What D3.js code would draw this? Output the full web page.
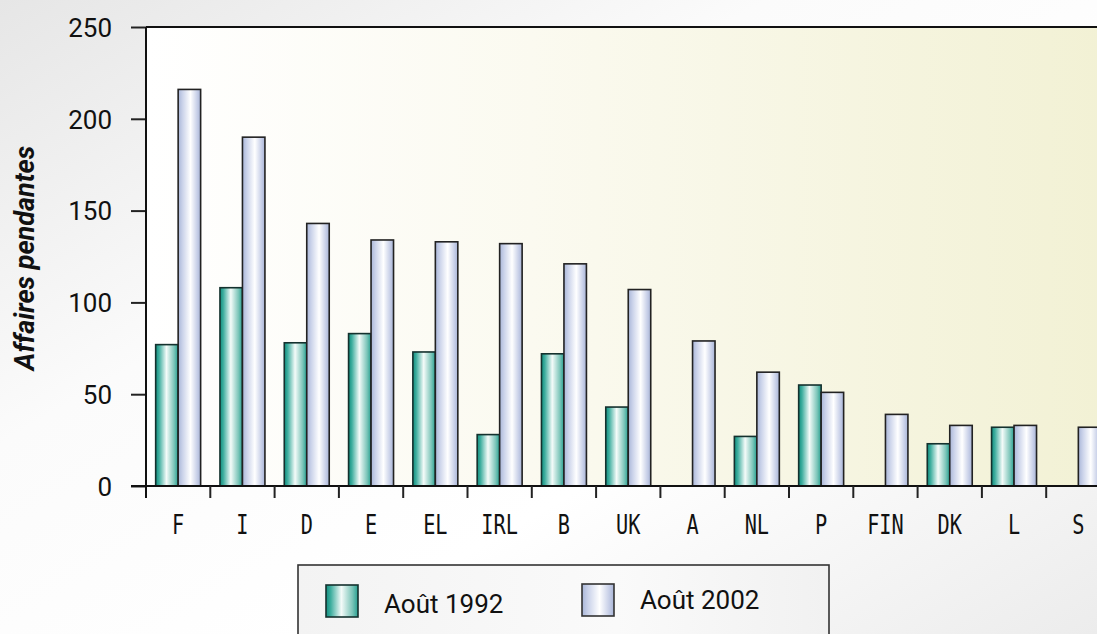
<!DOCTYPE html>
<html>
<head>
<meta charset="utf-8">
<script src="https://cdn.jsdelivr.net/npm/d3@7"></script>
<style>
  html, body { margin: 0; padding: 0; }
  body { width: 1097px; height: 634px; overflow: hidden; }
</style>
</head>
<body>
<div id="chart"></div>
<script>
  const categories = ['F', 'I', 'D', 'E', 'EL', 'IRL', 'B', 'UK', 'A', 'NL', 'P', 'FIN', 'DK', 'L', 'S'];
  const series = ['Août 1992', 'Août 2002'];
  const values1992 = [77, 108, 78, 83, 73, 28, 72, 43, 0, 27, 55, 0, 23, 32, 0];
  const values2002 = [216, 190, 143, 134, 133, 132, 121, 107, 79, 62, 51, 39, 33, 33, 32];
  const yTicks = [0, 50, 100, 150, 200, 250];
  const yLabel = 'Affaires pendantes';

  const W = 1097, H = 634;
  const margin = { top: 27, left: 146, bottom: 148 };
  const plotRight = 146 + 15 * 64.3;

  let svg = d3.select('#chart')
    .append('svg')
    .attr('width', W)
    .attr('height', H);

  let defs = svg.append('defs');

  // page background
  let bg = defs.append('linearGradient').attr('id', 'pageBg')
    .attr('x1', 0).attr('y1', 0).attr('x2', 1).attr('y2', 1);
  bg.append('stop').attr('offset', '0%').attr('stop-color', '#e6e6e6');
  bg.append('stop').attr('offset', '35%').attr('stop-color', '#fbfbfb');
  bg.append('stop').attr('offset', '65%').attr('stop-color', '#ffffff');
  bg.append('stop').attr('offset', '100%').attr('stop-color', '#ececec');

  let plotBg = defs.append('linearGradient').attr('id', 'plotBg')
    .attr('x1', 0).attr('y1', 0).attr('x2', 1).attr('y2', 0);
  plotBg.append('stop').attr('offset', '0%').attr('stop-color', '#ffffff');
  plotBg.append('stop').attr('offset', '40%').attr('stop-color', '#fbfaf0');
  plotBg.append('stop').attr('offset', '100%').attr('stop-color', '#f2f1d4');

  let legBg = defs.append('linearGradient').attr('id', 'legBg')
    .attr('x1', 0).attr('y1', 0).attr('x2', 1).attr('y2', 0);
  legBg.append('stop').attr('offset', '0%').attr('stop-color', '#f3f3f3');
  legBg.append('stop').attr('offset', '60%').attr('stop-color', '#fafafa');
  legBg.append('stop').attr('offset', '100%').attr('stop-color', '#f1f1f1');

  // bar fills, shaded like cylinders
  let g92 = defs.append('linearGradient').attr('id', 'fill0')
    .attr('x1', 0).attr('y1', 0).attr('x2', 1).attr('y2', 0);
  [['0%', '#0f8e7e'], ['15%', '#3fae9f'], ['48%', '#f4fbf9'], ['82%', '#7cc5b9'], ['100%', '#26a090']]
    .forEach(s => g92.append('stop').attr('offset', s[0]).attr('stop-color', s[1]));

  let g02 = defs.append('linearGradient').attr('id', 'fill1')
    .attr('x1', 0).attr('y1', 0).attr('x2', 1).attr('y2', 0);
  [['0%', '#a9b6d8'], ['20%', '#cbd3ea'], ['55%', '#ffffff'], ['85%', '#c6cee7'], ['100%', '#a8b4d6']]
    .forEach(s => g02.append('stop').attr('offset', s[0]).attr('stop-color', s[1]));

  svg.append('rect')
    .attr('width', W).attr('height', H)
    .attr('fill', 'url(#pageBg)');

  let xScale = d3.scaleBand()
    .domain(categories)
    .range([margin.left, plotRight])
    .paddingInner(0)
    .paddingOuter(0);

  let xSub = d3.scaleBand()
    .domain(series)
    .range([0, xScale.bandwidth()])
    .paddingInner(0)
    .paddingOuter(0.43);

  let yScale = d3.scaleLinear()
    .domain([0, 250])
    .range([H - margin.bottom, margin.top]);

  // plot area
  svg.append('rect')
    .attr('x', margin.left)
    .attr('y', yScale(250))
    .attr('width', plotRight - margin.left)
    .attr('height', yScale(0) - yScale(250))
    .attr('fill', 'url(#plotBg)');

  let data = categories.map((c, i) => ({ cat: c, vals: [values1992[i], values2002[i]] }));

  let groups = svg.selectAll('.grp')
    .data(data)
    .enter()
    .append('g')
    .attr('class', 'grp')
    .attr('transform', d => `translate(${xScale(d.cat)}, 0)`);

  groups.selectAll('rect')
    .data(d => d.vals.map((v, k) => ({ s: series[k], k, v })).filter(e => e.v > 0))
    .enter()
    .append('rect')
    .attr('x', d => xSub(d.s))
    .attr('y', d => yScale(d.v))
    .attr('width', xSub.bandwidth())
    .attr('height', d => yScale(0) - yScale(d.v))
    .attr('fill', d => `url(#fill${d.k})`)
    .attr('stroke', d => d.k === 0 ? '#14312e' : '#222')
    .attr('stroke-width', 1.6);

  // top border
  svg.append('line')
    .attr('x1', margin.left).attr('x2', W)
    .attr('y1', yScale(250)).attr('y2', yScale(250))
    .attr('stroke', '#111').attr('stroke-width', 2);

  // y axis
  let yAxis = d3.axisLeft(yScale)
    .tickValues(yTicks)
    .tickSize(15)
    .tickPadding(19);

  let yG = svg.append('g')
    .attr('transform', `translate(${margin.left}, 0)`)
    .call(yAxis);
  yG.select('.domain').remove();
  yG.selectAll('.tick line').attr('stroke', '#222').attr('stroke-width', 2);
  yG.selectAll('.tick text')
    .attr('fill', '#111')
    .style('font-family', 'Roboto, "Noto Sans", sans-serif')
    .style('font-size', '26px')
    .attr('dy', '0.36em');

  svg.append('line')
    .attr('x1', margin.left).attr('x2', margin.left)
    .attr('y1', yScale(250)).attr('y2', yScale(0) + 12)
    .attr('stroke', '#111').attr('stroke-width', 2);

  // x axis baseline and separators
  svg.append('line')
    .attr('x1', margin.left - 15).attr('x2', W)
    .attr('y1', yScale(0)).attr('y2', yScale(0))
    .attr('stroke', '#111').attr('stroke-width', 2);

  svg.selectAll('.xtick')
    .data(categories.slice(1))
    .enter()
    .append('line')
    .attr('class', 'xtick')
    .attr('x1', d => xScale(d)).attr('x2', d => xScale(d))
    .attr('y1', yScale(0)).attr('y2', yScale(0) + 12)
    .attr('stroke', '#222').attr('stroke-width', 2);

  svg.selectAll('.xlab')
    .data(categories)
    .enter()
    .append('text')
    .attr('class', 'xlab')
    .attr('transform', d => `translate(${xScale(d) + xScale.bandwidth() / 2}, 534) scale(0.78, 1)`)
    .attr('text-anchor', 'middle')
    .style('font-family', '"DejaVu Sans Mono", monospace')
    .style('font-size', '26px')
    .attr('fill', '#111')
    .text(d => d);

  svg.append('text')
    .attr('transform', `translate(34, ${258}) rotate(-90)`)
    .attr('text-anchor', 'middle')
    .style('font-family', 'Roboto, "Noto Sans", sans-serif')
    .style('font-size', '27px')
    .style('font-weight', 'bold')
    .style('font-style', 'italic')
    .attr('fill', '#111')
    .text(yLabel);

  // legend
  svg.append('rect')
    .attr('x', 298).attr('y', 565)
    .attr('width', 531).attr('height', 90)
    .attr('fill', 'url(#legBg)')
    .attr('stroke', '#333').attr('stroke-width', 1.6);

  let legItems = svg.selectAll('.leg')
    .data(series)
    .enter()
    .append('g')
    .attr('class', 'leg')
    .attr('transform', (d, i) => i === 0 ? 'translate(326, 585)' : 'translate(582, 584)');

  legItems.append('rect')
    .attr('width', 32).attr('height', 32)
    .attr('fill', (d, i) => `url(#fill${i})`)
    .attr('stroke', (d, i) => i === 0 ? '#14312e' : '#333')
    .attr('stroke-width', 1.6);

  legItems.append('text')
    .attr('x', 58)
    .attr('y', (d, i) => i === 0 ? 28 : 25)
    .style('font-family', 'Roboto, "Noto Sans", sans-serif')
    .style('font-size', '26px')
    .attr('fill', '#111')
    .text(d => d);
</script>
</body>
</html>
